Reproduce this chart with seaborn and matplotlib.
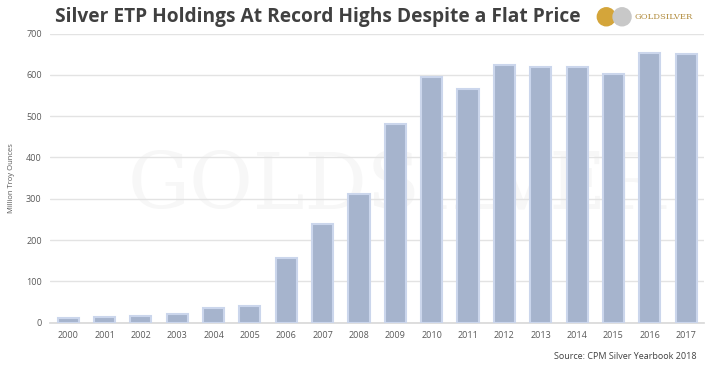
import matplotlib
matplotlib.use("Agg")
import matplotlib.pyplot as plt
from matplotlib.patches import Ellipse
import pandas as pd
import seaborn as sns

years = [str(y) for y in range(2000, 2018)]
holdings = [12, 13, 17, 22, 35, 40, 157, 238, 311, 482, 594, 565, 623, 618, 618, 603, 652, 650]
yticks = [0, 100, 200, 300, 400, 500, 600, 700]

df = pd.DataFrame({"year": years, "holdings": holdings})

sns.set_theme(style="white")
plt.rcParams['font.family'] = ['Open Sans', 'DejaVu Sans']

fig = plt.figure(figsize=(7.15, 3.73), dpi=100)
ax = fig.add_axes([0.07, 0.135, 0.915, 0.775])

# faint watermark behind the bars
ax.text(0.53, 0.47, "GOLDSILVER", transform=ax.transAxes, ha="center", va="center",
        fontsize=56, family="DejaVu Serif", color="#f7f7f7", zorder=0)

sns.barplot(data=df, x="year", y="holdings", color="#a6b4cd", width=0.58,
            edgecolor="#cbd6ec", linewidth=1.5, saturation=1, ax=ax, zorder=3)

ax.set_ylim(0, 700)
ax.set_yticks(yticks)
ax.set_xlim(-0.5, len(years) - 0.5)
ax.yaxis.grid(True, color="#e3e3e3", linewidth=1)
ax.set_axisbelow(True)
for s in ["top", "right", "left"]:
    ax.spines[s].set_visible(False)
ax.spines["bottom"].set_color("#d9d9d9")
ax.tick_params(axis="both", labelsize=6.5, colors="#595959", length=0, pad=6)
ax.set_xlabel("")
ax.set_ylabel("Million Troy Ounces", fontsize=5.5, color="#595959", labelpad=8)

fig.text(0.445, 0.955, "Silver ETP Holdings At Record Highs Despite a Flat Price",
         ha="center", va="center", fontsize=13.8, fontweight="bold", color="#404040")

# logo top right (coins drawn as circles in pixel proportions)
r = 9 / 715
fig.patches.append(Ellipse((0.848, 0.955), 2 * r, 2 * r * 715 / 373,
                           transform=fig.transFigure, color="#d4a53a", zorder=5))
fig.patches.append(Ellipse((0.870, 0.955), 2 * r, 2 * r * 715 / 373,
                           transform=fig.transFigure, color="#c8c8c8", zorder=5))
fig.text(0.888, 0.955, "GOLDSILVER", ha="left", va="center", fontsize=6,
         family="DejaVu Serif", color="#b08a3a")

fig.text(0.975, 0.045, "Source: CPM Silver Yearbook 2018", ha="right", va="center",
         fontsize=6.5, color="#404040")

fig.savefig("out.png", dpi=100)
